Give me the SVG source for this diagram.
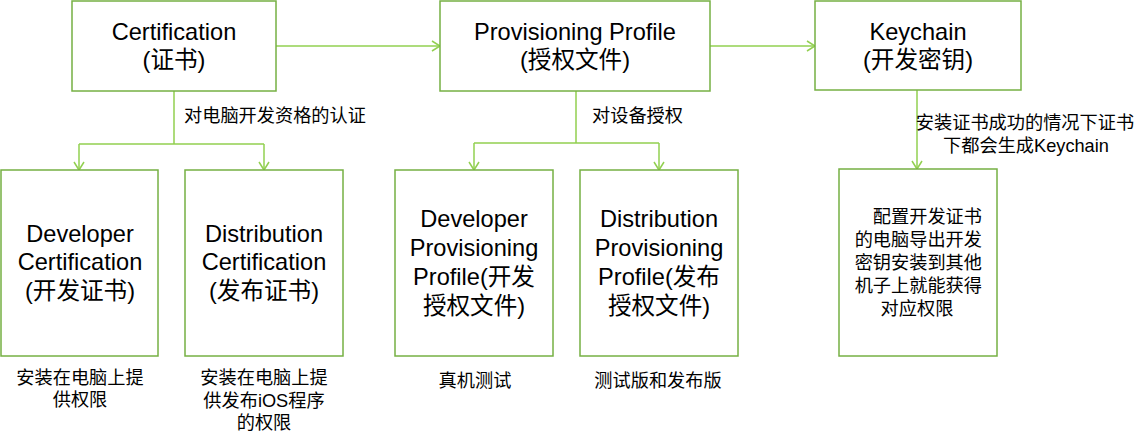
<svg xmlns="http://www.w3.org/2000/svg" width="1148" height="438" viewBox="0 0 1148 438">
<style>
.box{fill:#fff;stroke:#76B043;stroke-width:1.5}
.con{fill:none;stroke:#92D050;stroke-width:1.5}
text{font-family:"Liberation Sans","Noto Sans CJK SC",sans-serif;fill:#000}
.big{font-size:23.6px;text-anchor:middle}
.sm{font-size:18.2px}
.mid{text-anchor:middle}
</style>
<defs>
<marker id="arr" markerUnits="userSpaceOnUse" markerWidth="12" markerHeight="12" viewBox="0 0 12 12" refX="10" refY="6" orient="auto">
<path d="M2,1 L10,6 L2,11" fill="none" stroke="#92D050" stroke-width="1.5"/>
</marker>
</defs>
<rect width="1148" height="438" fill="#fff"/>
<g id="connectors">
<path class="con" d="M276,46 H440" marker-end="url(#arr)"/>
<path class="con" d="M710,46 H815" marker-end="url(#arr)"/>
<path class="con" d="M174,91 V144 M79,144 H264"/>
<path class="con" d="M79,144 V170" marker-end="url(#arr)"/>
<path class="con" d="M264,144 V170" marker-end="url(#arr)"/>
<path class="con" d="M576,91 V143 M474,143 H659"/>
<path class="con" d="M474,143 V170" marker-end="url(#arr)"/>
<path class="con" d="M659,143 V170" marker-end="url(#arr)"/>
<path class="con" d="M917,90 V169" marker-end="url(#arr)"/>
<text class="sm" x="184" y="122">对电脑开发资格的认证</text>
<text class="sm" x="592" y="122">对设备授权</text>
<text class="sm mid" x="1025" y="129">安装证书成功的情况下证书</text>
<text class="sm mid" x="1026" y="152">下都会生成Keychain</text>
</g>
<g id="certification">
<rect class="box" x="72" y="1" width="204" height="90"/>
<text class="big" x="174" y="40">Certification</text>
<text class="big" x="174" y="68">(证书)</text>
</g>
<g id="provisioning">
<rect class="box" x="440" y="1" width="270" height="90"/>
<text class="big" x="575" y="40">Provisioning Profile</text>
<text class="big" x="575" y="68">(授权文件)</text>
</g>
<g id="keychain">
<rect class="box" x="815" y="1" width="206" height="89"/>
<text class="big" x="918" y="40">Keychain</text>
<text class="big" x="918" y="68">(开发密钥)</text>
</g>
<g id="dev-cert">
<rect class="box" x="1" y="170" width="157" height="186"/>
<text class="big" x="80" y="242">Developer</text>
<text class="big" x="80" y="270">Certification</text>
<text class="big" x="80" y="299">(开发证书)</text>
<text class="sm mid" x="80" y="384">安装在电脑上提</text>
<text class="sm mid" x="80" y="406">供权限</text>
</g>
<g id="dist-cert">
<rect class="box" x="185" y="170" width="158" height="186"/>
<text class="big" x="264" y="242">Distribution</text>
<text class="big" x="264" y="270">Certification</text>
<text class="big" x="264" y="299">(发布证书)</text>
<text class="sm mid" x="264" y="384">安装在电脑上提</text>
<text class="sm mid" x="264" y="407">供发布iOS程序</text>
<text class="sm mid" x="264" y="429">的权限</text>
</g>
<g id="dev-prov">
<rect class="box" x="395" y="170" width="158" height="186"/>
<text class="big" x="474" y="227">Developer</text>
<text class="big" x="474" y="256">Provisioning</text>
<text class="big" x="474" y="285">Profile(开发</text>
<text class="big" x="474" y="314">授权文件)</text>
<text class="sm mid" x="475" y="387">真机测试</text>
</g>
<g id="dist-prov">
<rect class="box" x="580" y="170" width="158" height="186"/>
<text class="big" x="659" y="227">Distribution</text>
<text class="big" x="659" y="256">Provisioning</text>
<text class="big" x="659" y="285">Profile(发布</text>
<text class="big" x="659" y="314">授权文件)</text>
<text class="sm mid" x="658" y="387">测试版和发布版</text>
</g>
<g id="keychain-detail">
<rect class="box" x="839" y="169" width="158" height="187"/>
<text class="sm" x="982" y="223" text-anchor="end">配置开发证书</text>
<text class="sm" x="982" y="246" text-anchor="end">的电脑导出开发</text>
<text class="sm" x="982" y="269" text-anchor="end">密钥安装到其他</text>
<text class="sm" x="982" y="292" text-anchor="end">机子上就能获得</text>
<text class="sm mid" x="917" y="315">对应权限</text>
</g>
</svg>
